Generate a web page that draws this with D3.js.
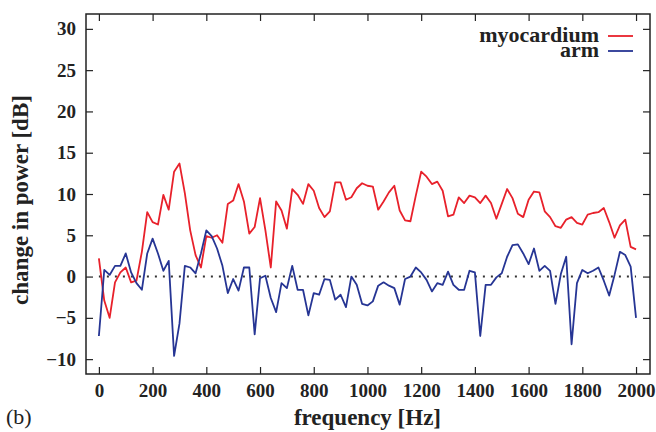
<!DOCTYPE html>
<html>
<head>
<meta charset="utf-8">
<script src="https://cdn.jsdelivr.net/npm/d3@7"></script>
<style>
  body { margin: 0; background: #fff; }
  svg text { font-family: "Liberation Serif", "DejaVu Serif", serif; }
</style>
</head>
<body>
<div id="chart"></div>
<script>
// frequency steps (Hz)
const freqStep = 20;
const xTicks = [0, 200, 400, 600, 800, 1000, 1200, 1400, 1600, 1800, 2000];
const yTicks = [-10, -5, 0, 5, 10, 15, 20, 25, 30];

// change in power [dB], one value every 20 Hz from 0 to 2000
const myocardium = [
  2.2, -2.9, -5.0, -0.7, 0.5, 1.1, -0.7, -0.5, 3.0, 7.8,
  6.6, 6.3, 9.9, 8.1, 12.7, 13.7, 10.1, 5.6, 2.6, 1.1,
  4.9, 4.7, 5.0, 4.1, 8.8, 9.2, 11.2, 9.1, 5.2, 6.0,
  9.5, 5.6, 1.1, 9.1, 8.0, 5.8, 10.6, 9.9, 8.8, 11.2,
  10.4, 8.3, 7.2, 7.9, 11.4, 11.4, 9.3, 9.6, 10.7, 11.3,
  11.0, 10.9, 8.1, 9.1, 10.2, 11.0, 8.0, 6.8, 6.7, 9.8,
  12.7, 12.1, 11.2, 11.5, 10.4, 7.3, 7.5, 9.6, 8.9, 9.8,
  9.6, 8.9, 9.8, 8.9, 7.0, 8.8, 10.6, 9.5, 7.6, 7.2,
  9.3, 10.3, 10.2, 7.9, 7.2, 6.1, 5.9, 6.9, 7.2, 6.5,
  6.3, 7.5, 7.7, 7.8, 8.3, 6.6, 4.7, 6.2, 6.9, 3.6,
  3.3
];
const arm = [
  -7.2, 0.8, 0.2, 1.3, 1.3, 2.8, 0.5, -0.8, -1.6, 2.8,
  4.6, 2.8, 0.7, 1.9, -9.6, -5.7, 1.3, 1.1, 0.4, 2.8,
  5.6, 4.9, 3.4, 1.3, -2.0, -0.3, -1.7, 1.1, 1.1, -7.0,
  -0.2, 0.1, -2.6, -4.3, -0.8, -1.4, 1.3, -1.6, -1.6, -4.7,
  -2.0, -2.2, -0.3, -0.4, -2.8, -2.2, -3.7, 0.0, -1.0, -3.3,
  -3.5, -3.0, -1.1, -0.7, -1.1, -1.4, -3.4, -0.3, 0.0, 1.1,
  0.5, -0.4, -1.8, -0.8, -1.0, 0.6, -1.0, -1.6, -1.6, 0.7,
  0.5, -7.2, -1.0, -1.0, -0.1, 0.4, 2.4, 3.8, 3.9, 2.8,
  1.5, 3.4, 0.7, 1.3, 0.7, -3.3, 0.3, 2.4, -8.2, -0.8,
  0.8, 0.4, 0.7, 1.1, -0.5, -2.3, 0.2, 3.0, 2.6, 1.2,
  -5.0
];

const width = 656, height = 432;
const margin = { top: 14, right: 6, bottom: 58, left: 86 };
const w = width - margin.left - margin.right;
const h = height - margin.top - margin.bottom;

const svg = d3.select("#chart").append("svg")
  .attr("width", width)
  .attr("height", height);

const g = svg.append("g")
  .attr("transform", `translate(${margin.left},${margin.top})`);

const x = d3.scaleLinear().domain([-48, 2052]).range([0, w]);
const y = d3.scaleLinear().domain([-11.8, 31.8]).range([h, 0]);

// axes with inward ticks, mirrored on top/right
const tickLen = 7;
const styleAxis = (sel) => {
  sel.select(".domain").remove();
  sel.selectAll(".tick line").attr("stroke", "#222").attr("stroke-width", 1.2);
  sel.selectAll(".tick text")
    .attr("font-size", "19px")
    .attr("font-weight", "bold")
    .attr("fill", "#222");
};

g.append("g")
  .attr("transform", `translate(0,${h})`)
  .call(d3.axisBottom(x).tickValues(xTicks).tickSizeInner(-tickLen).tickPadding(10).tickFormat(d3.format("d")))
  .call(styleAxis);

g.append("g")
  .call(d3.axisTop(x).tickValues(xTicks).tickSizeInner(-tickLen).tickFormat(""))
  .call(styleAxis);

g.append("g")
  .call(d3.axisLeft(y).tickValues(yTicks).tickSizeInner(-tickLen).tickPadding(10).tickFormat(d3.format("d")))
  .call(styleAxis);

g.append("g")
  .attr("transform", `translate(${w},0)`)
  .call(d3.axisRight(y).tickValues(yTicks).tickSizeInner(-tickLen).tickFormat(""))
  .call(styleAxis);

// frame
g.append("rect")
  .attr("width", w).attr("height", h)
  .attr("fill", "none").attr("stroke", "#222").attr("stroke-width", 1.5);

// zero line
g.append("line")
  .attr("x1", x(0)).attr("x2", x(2000))
  .attr("y1", y(0)).attr("y2", y(0))
  .attr("stroke", "#333").attr("stroke-width", 2)
  .attr("stroke-dasharray", "2,6");

const line = d3.line()
  .x((d, i) => x(i * freqStep))
  .y((d) => y(d));

g.append("path").datum(myocardium)
  .attr("fill", "none").attr("stroke", "#e8212b").attr("stroke-width", 1.8)
  .attr("stroke-linejoin", "round")
  .attr("d", line);

g.append("path").datum(arm)
  .attr("fill", "none").attr("stroke", "#263594").attr("stroke-width", 1.8)
  .attr("stroke-linejoin", "round")
  .attr("d", line);

// legend
const legend = [
  { name: "myocardium", color: "#e8212b" },
  { name: "arm", color: "#263594" },
];
legend.forEach((d, i) => {
  const ly = 36 + i * 15;
  svg.append("text")
    .attr("x", 599).attr("y", ly + 6)
    .attr("text-anchor", "end")
    .attr("font-size", "22px").attr("font-weight", "bold").attr("fill", "#222")
    .text(d.name);
  svg.append("line")
    .attr("x1", 608).attr("x2", 633)
    .attr("y1", ly).attr("y2", ly)
    .attr("stroke", d.color).attr("stroke-width", 1.8);
});

// axis labels
svg.append("text")
  .attr("x", margin.left + x(1000)).attr("y", 425)
  .attr("text-anchor", "middle")
  .attr("font-size", "23px").attr("font-weight", "bold").attr("fill", "#222")
  .text("frequency [Hz]");

svg.append("text")
  .attr("transform", `translate(28,200) rotate(-90)`)
  .attr("text-anchor", "middle")
  .attr("font-size", "23px").attr("font-weight", "bold").attr("fill", "#222")
  .text("change in power [dB]");

svg.append("text")
  .attr("x", 6).attr("y", 424)
  .attr("font-size", "22px").attr("fill", "#222")
  .text("(b)");
</script>
</body>
</html>
